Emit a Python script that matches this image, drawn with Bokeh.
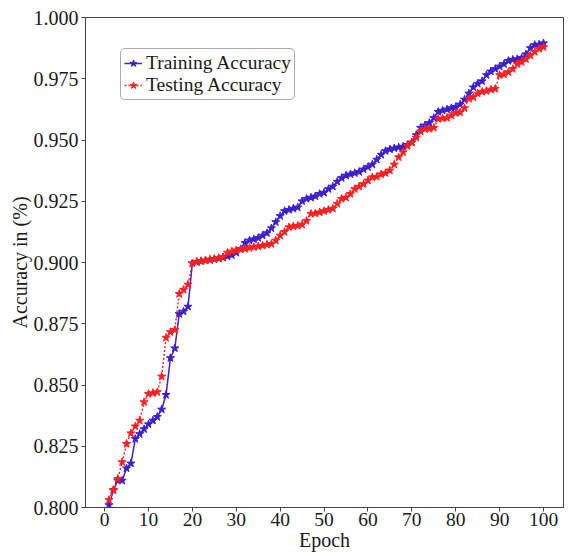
from bokeh.plotting import figure
from bokeh.models import Range1d, FixedTicker, PrintfTickFormatter, Legend, LegendItem, ColumnDataSource
from bokeh.embed import file_html
from bokeh.resources import INLINE

epochs = list(range(1, 101))

train_acc = [
    0.801, 0.807, 0.811, 0.811, 0.816, 0.818, 0.828, 0.830, 0.832, 0.834,
    0.8355, 0.837, 0.840, 0.846, 0.861, 0.865, 0.879, 0.880, 0.882, 0.8997,
    0.9002, 0.9005, 0.9008, 0.9010, 0.9013, 0.9016, 0.9020, 0.9025, 0.9030, 0.9040,
    0.9055, 0.9080, 0.9090, 0.9095, 0.9100, 0.9110, 0.9120, 0.9140, 0.9165, 0.9190,
    0.9210, 0.9215, 0.9220, 0.9225, 0.9250, 0.9260, 0.9265, 0.9270, 0.9280, 0.9285,
    0.9300, 0.9310, 0.9330, 0.9345, 0.9355, 0.9360, 0.9365, 0.9370, 0.9380, 0.9390,
    0.9400, 0.9420, 0.9440, 0.9455, 0.9462, 0.9466, 0.9470, 0.9473, 0.9480, 0.9490,
    0.9520, 0.9550, 0.9560, 0.9570, 0.9590, 0.9615, 0.9620, 0.9625, 0.9630, 0.9635,
    0.9645, 0.9665, 0.9690, 0.9715, 0.9730, 0.9740, 0.9765, 0.9780, 0.9790, 0.9800,
    0.9810, 0.9823, 0.9828, 0.9830, 0.9835, 0.9850, 0.9875, 0.9888, 0.9890, 0.9895,
]

test_acc = [
    0.8031, 0.8072, 0.8117, 0.8185, 0.8260, 0.8303, 0.8331, 0.8355, 0.8430, 0.8464,
    0.8467, 0.8471, 0.8535, 0.8693, 0.8716, 0.8725, 0.8872, 0.8889, 0.8910, 0.8997,
    0.9003, 0.9006, 0.9009, 0.9012, 0.9015, 0.9018, 0.9022, 0.9040, 0.9045, 0.9050,
    0.9053, 0.9056, 0.9060, 0.9063, 0.9066, 0.9069, 0.9073, 0.9076, 0.9090, 0.9110,
    0.9125, 0.9144, 0.9148, 0.9150, 0.9155, 0.9170, 0.9199, 0.9200, 0.9205, 0.9210,
    0.9215, 0.9220, 0.9240, 0.9260, 0.9265, 0.9280, 0.9300, 0.9310, 0.9320, 0.9335,
    0.9348, 0.9350, 0.9360, 0.9365, 0.9376, 0.9400, 0.9430, 0.9450, 0.9475, 0.9490,
    0.9510, 0.9535, 0.9545, 0.9546, 0.9550, 0.9586, 0.9588, 0.9590, 0.9600, 0.9610,
    0.9613, 0.9630, 0.9668, 0.9675, 0.9690, 0.9697, 0.9700, 0.9706, 0.9709, 0.9765,
    0.9768, 0.9777, 0.9790, 0.9810, 0.9818, 0.9830, 0.9845, 0.9860, 0.9872, 0.9879,
]

x_ticks = [0, 10, 20, 30, 40, 50, 60, 70, 80, 90, 100]
y_ticks = [0.800, 0.825, 0.850, 0.875, 0.900, 0.925, 0.950, 0.975, 1.000]

FONT = "Liberation Serif"
BLUE = "#3c1fd0"
RED = "#ff1f1f"
AXC = "#444444"

p = figure(width=571, height=556, output_backend="svg", toolbar_location=None,
           x_range=Range1d(-4.35, 104.55), y_range=Range1d(0.8, 1.0),
           min_border_left=85, min_border_right=8, min_border_top=17, min_border_bottom=49)
p.background_fill_color = "white"
p.border_fill_color = "white"
p.outline_line_color = AXC
p.outline_line_width = 1
p.xgrid.visible = False
p.ygrid.visible = False

src = ColumnDataSource(dict(epoch=epochs, train=train_acc, test=test_acc))

l1 = p.line("epoch", "train", source=src, line_color=BLUE, line_width=1.5)
s1 = p.scatter("epoch", "train", source=src, marker="star", size=8.5,
               fill_color=BLUE, line_color=BLUE)
l2 = p.line("epoch", "test", source=src, line_color=RED, line_width=1.4, line_dash="2 2")
s2 = p.scatter("epoch", "test", source=src, marker="star", size=8.5,
               fill_color=RED, line_color=RED)

for ax in (p.xaxis[0], p.yaxis[0]):
    ax.axis_line_color = AXC
    ax.major_tick_line_color = AXC
    ax.major_tick_out = 4
    ax.major_tick_in = 0
    ax.minor_tick_out = 0
    ax.minor_tick_in = 0
    ax.major_label_text_font = FONT
    ax.major_label_text_font_size = "20px"
    ax.major_label_text_color = "#1a1a1a"
    ax.axis_label_text_font = FONT
    ax.axis_label_text_font_size = "20px"
    ax.axis_label_text_font_style = "normal"
    ax.axis_label_text_color = "#1a1a1a"

p.xaxis[0].ticker = FixedTicker(ticks=x_ticks)
p.yaxis[0].ticker = FixedTicker(ticks=y_ticks)
p.yaxis[0].formatter = PrintfTickFormatter(format="%.3f")
p.xaxis[0].axis_label = "Epoch"
p.yaxis[0].axis_label = "Accuracy in (%)"
p.xaxis[0].major_label_text_font_size = "19.5px"
p.xaxis[0].major_label_standoff = 1
p.xaxis[0].axis_label_standoff = 0
p.yaxis[0].major_label_standoff = 3
p.yaxis[0].axis_label_standoff = 0

legend = Legend(items=[LegendItem(label="Training Accuracy", renderers=[l1, s1]),
                       LegendItem(label="Testing Accuracy", renderers=[l2, s2])],
                location=(35, 407), margin=0, padding=3, spacing=0,
                glyph_width=18, glyph_height=22, label_height=22, label_standoff=4,
                label_text_font=FONT, label_text_font_size="19.5px", label_text_color="#1a1a1a",
                border_line_color="#555555", border_line_width=1,
                background_fill_color="white", background_fill_alpha=1.0)
try:
    legend.border_radius = 5
except Exception:
    pass
p.add_layout(legend, "center")

open("out.html", "w").write(file_html(p, INLINE))
